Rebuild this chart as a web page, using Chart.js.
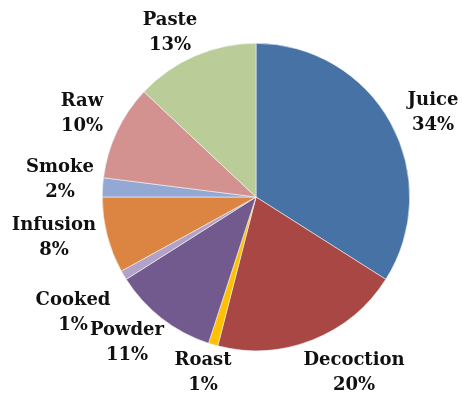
<!DOCTYPE html>
<html>
<head>
  <meta charset="UTF-8" />
  <title>Uses</title>
  <style>
    body { margin: 0; background: #fff; }
    canvas { display: block; }
  </style>
  <script src="https://cdn.jsdelivr.net/npm/chart.js"></script>
</head>
<body>
  <canvas id="pie" width="462" height="398"></canvas>
  <script>
    const categories = ["Juice", "Decoction", "Roast", "Powder", "Cooked", "Infusion", "Smoke", "Raw", "Paste"];
    const shares = [34, 20, 1, 11, 1, 8, 2, 10, 13];
    const colors = ["#4672A6", "#A94745", "#FFC000", "#72598E", "#B2A2C7", "#DC8441", "#93A9D3", "#D39190", "#BACD98"];

    // label centres, relative to the pie centre (first line)
    const labelSpots = [
      [177, -97], [98, 163], [-53, 163], [-129, 133], [-183, 103],
      [-202, 28], [-196, -30], [-174, -96], [-86, -177]
    ];

    const outsideLabels = {
      id: "outsideLabels",
      afterDraw(chart) {
        const ctx = chart.ctx;
        const arc = chart.getDatasetMeta(0).data[0];
        ctx.save();
        ctx.font = "bold 18px 'DejaVu Serif'";
        ctx.fillStyle = "#111";
        ctx.textAlign = "center";
        ctx.textBaseline = "middle";
        categories.forEach((name, i) => {
          const x = arc.x + labelSpots[i][0];
          const y = arc.y + labelSpots[i][1];
          ctx.fillText(name, x, y);
          ctx.fillText(shares[i] + "%", x, y + 25);
        });
        ctx.restore();
      }
    };

    new Chart(document.getElementById("pie"), {
      type: "pie",
      data: {
        labels: categories,
        datasets: [{ data: shares, backgroundColor: colors, borderColor: "#f4f4f4", borderWidth: 0.6 }]
      },
      options: {
        responsive: false,
        animation: false,
        layout: { padding: { top: 43, bottom: 47, left: 102, right: 52 } },
        plugins: { legend: { display: false }, tooltip: { enabled: false } }
      },
      plugins: [outsideLabels]
    });
  </script>
</body>
</html>
